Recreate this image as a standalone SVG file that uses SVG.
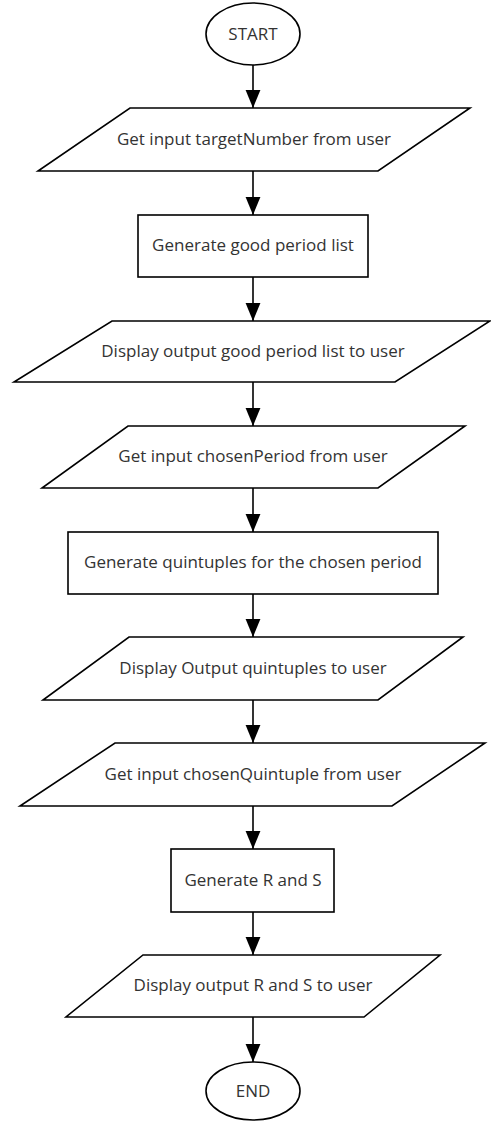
<svg xmlns="http://www.w3.org/2000/svg" width="491" height="1122" viewBox="0 0 491 1122">
<defs>
<style>
.s{fill:#fff;stroke:#000;stroke-width:1.6}
.t{font-family:"Open Sans",sans-serif;font-size:17px;fill:#333;text-anchor:middle;dominant-baseline:central}
.c{stroke:#000;stroke-width:1.6;fill:none;marker-end:url(#ah)}
</style>
<marker id="ah" markerUnits="userSpaceOnUse" markerWidth="18" markerHeight="16" refX="17" refY="7" orient="auto" viewBox="0 0 17 14">
<path d="M0,0 L17,7 L0,14 Z" fill="#000"/>
</marker>
</defs>
<rect width="491" height="1122" fill="#fff"/>
<g id="connectors">
<path class="c" d="M253,65 V108"/>
<path class="c" d="M253,171 V215"/>
<path class="c" d="M253,277 V321"/>
<path class="c" d="M253,382 V426"/>
<path class="c" d="M253,488 V532"/>
<path class="c" d="M253,594 V637"/>
<path class="c" d="M253,700 V743"/>
<path class="c" d="M253,806 V849"/>
<path class="c" d="M253,912 V955"/>
<path class="c" d="M253,1017 V1062"/>
</g>
<g id="start">
<ellipse class="s" cx="253" cy="34" rx="47" ry="31"/>
<text class="t" x="253" y="33">START</text>
</g>
<g id="n1">
<polygon class="s" points="130,108 470,108 378,171 38,171"/>
<text class="t" x="254" y="138">Get input targetNumber from user</text>
</g>
<g id="n2">
<rect class="s" x="138" y="215" width="230" height="62"/>
<text class="t" x="253" y="244">Generate good period list</text>
</g>
<g id="n3">
<polygon class="s" points="112,321 490,321 395,382 14,382"/>
<text class="t" x="253" y="350">Display output good period list to user</text>
</g>
<g id="n4">
<polygon class="s" points="128,426 465,426 378,488 42,488"/>
<text class="t" x="253" y="455">Get input chosenPeriod from user</text>
</g>
<g id="n5">
<rect class="s" x="68" y="532" width="370" height="62"/>
<text class="t" x="253" y="561">Generate quintuples for the chosen period</text>
</g>
<g id="n6">
<polygon class="s" points="129,637 463,637 378,700 43,700"/>
<text class="t" x="253" y="667">Display Output quintuples to user</text>
</g>
<g id="n7">
<polygon class="s" points="115,743 485,743 392,806 20,806"/>
<text class="t" x="253" y="773">Get input chosenQuintuple from user</text>
</g>
<g id="n8">
<rect class="s" x="171" y="849" width="163" height="63"/>
<text class="t" x="253" y="879">Generate R and S</text>
</g>
<g id="n9">
<polygon class="s" points="143,955 440,955 364,1017 66,1017"/>
<text class="t" x="253" y="984">Display output R and S to user</text>
</g>
<g id="end">
<ellipse class="s" cx="253" cy="1091" rx="47" ry="29"/>
<text class="t" x="253" y="1090">END</text>
</g>
</svg>
